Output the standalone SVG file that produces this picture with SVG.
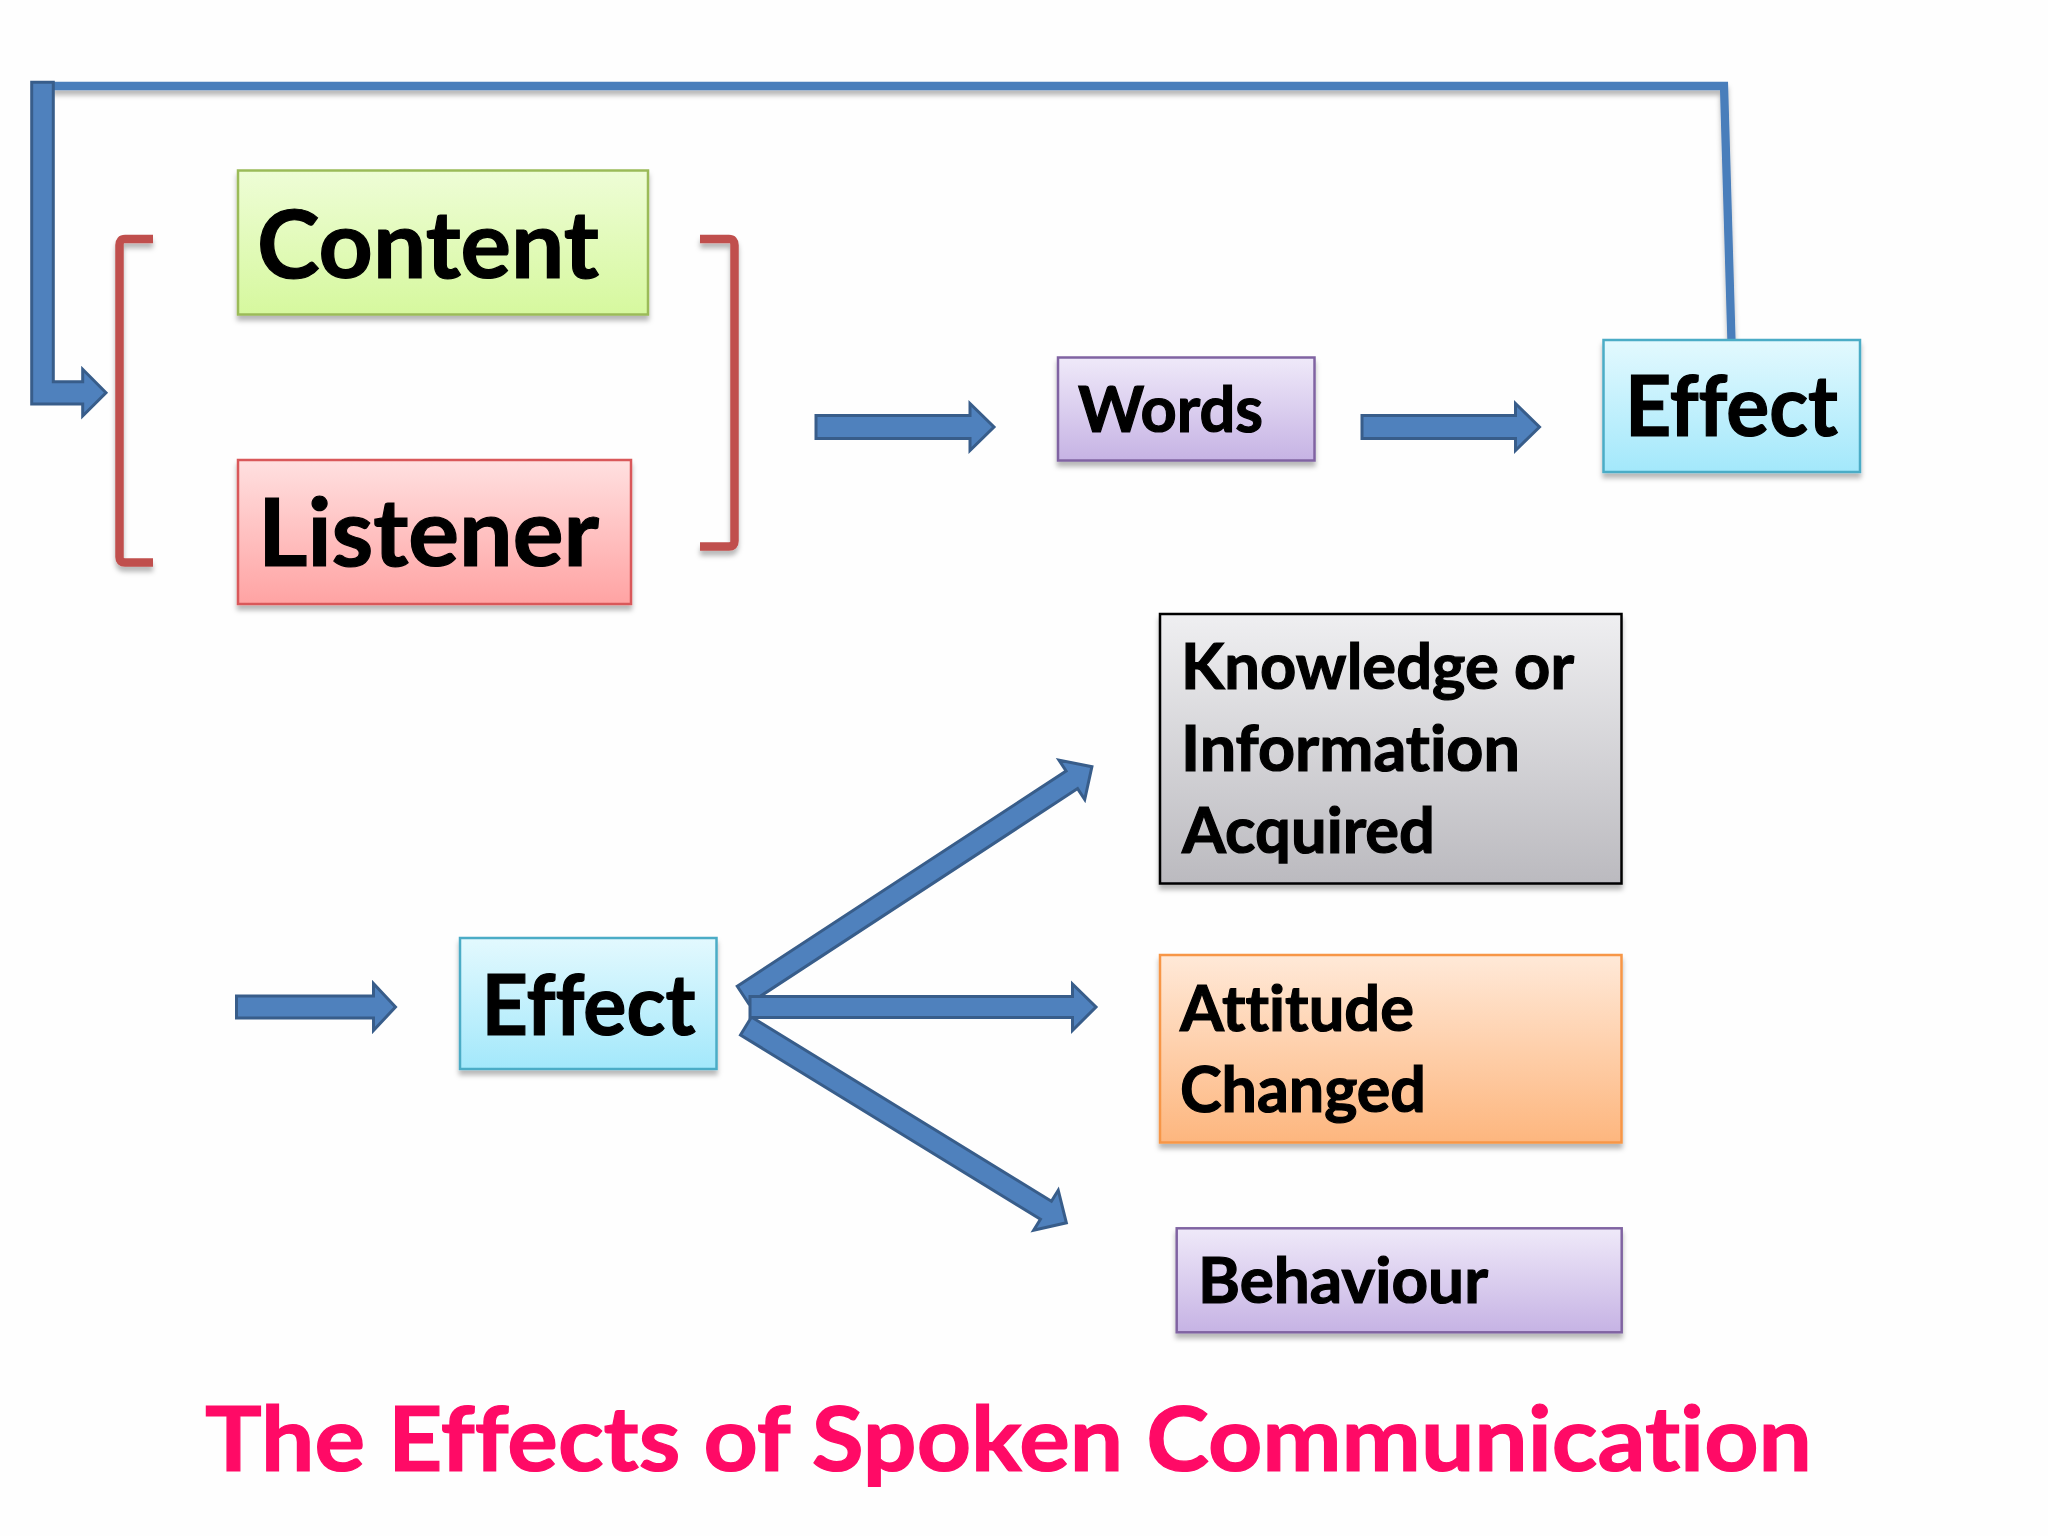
<svg xmlns="http://www.w3.org/2000/svg" width="2048" height="1536" viewBox="0 0 2048 1536">
  <defs>
    <filter id="sh" filterUnits="userSpaceOnUse" x="0" y="0" width="2048" height="1536">
      <feDropShadow dx="0" dy="5" stdDeviation="2.5" flood-color="#000" flood-opacity="0.28"/>
    </filter>
    <linearGradient id="gGreen" x1="0" y1="0" x2="0" y2="1">
      <stop offset="0" stop-color="#eefdd6"/>
      <stop offset="1" stop-color="#d6f89e"/>
    </linearGradient>
    <linearGradient id="gPink" x1="0" y1="0" x2="0" y2="1">
      <stop offset="0" stop-color="#ffe0e0"/>
      <stop offset="1" stop-color="#ffa3a3"/>
    </linearGradient>
    <linearGradient id="gPurple" x1="0" y1="0" x2="0" y2="1">
      <stop offset="0" stop-color="#efe9f9"/>
      <stop offset="1" stop-color="#c6b3e4"/>
    </linearGradient>
    <linearGradient id="gCyan" x1="0" y1="0" x2="0" y2="1">
      <stop offset="0" stop-color="#e3f9fe"/>
      <stop offset="1" stop-color="#a3e8fb"/>
    </linearGradient>
    <linearGradient id="gGray" x1="0" y1="0" x2="0" y2="1">
      <stop offset="0" stop-color="#efeff1"/>
      <stop offset="1" stop-color="#bbbabf"/>
    </linearGradient>
    <linearGradient id="gOrange" x1="0" y1="0" x2="0" y2="1">
      <stop offset="0" stop-color="#ffe9d8"/>
      <stop offset="1" stop-color="#fdb67e"/>
    </linearGradient>
  </defs>
  <style>
    .lbl { font-family: Lato, "Open Sans", "Liberation Sans", sans-serif; font-weight: 700; fill: #000; stroke: #000; stroke-width: 1.2; font-variant-ligatures: none; font-feature-settings: "liga" 0, "clig" 0, "dlig" 0; }
    .box { filter: url(#sh); stroke-width: 2.5; }
    .arr { fill: #4f81bd; stroke: #385d8a; stroke-width: 3; stroke-linejoin: miter; }
    .brk { fill: none; stroke: #c0504d; stroke-width: 8.5; stroke-linejoin: round; filter: url(#sh); }
    .title { font-family: Lato, "Open Sans", "Liberation Sans", sans-serif; font-weight: 700; fill: #ff0a66; stroke: #ff0a66; stroke-width: 1.2; font-variant-ligatures: none; font-feature-settings: "liga" 0, "clig" 0, "dlig" 0; }
  </style>
  <rect x="0" y="0" width="2048" height="1536" fill="#fefefe"/>

  <g id="connectors">
    <polyline points="52,86 1724,86 1731.5,342" fill="none" stroke="#4a7ebb" stroke-width="8.3" stroke-linejoin="miter" filter="url(#sh)"/>
    <polygon class="arr" points="31.7,82.3 53.3,82.3 53.3,381.7 82.7,381.7 82.7,369.3 106,392.7 82.7,416 82.7,404 31.7,404"/>
    <polygon class="arr" points="816,415.5 970,415.5 970,403.5 994,427 970,450.5 970,438.5 816,438.5"/>
    <polygon class="arr" points="1362,415.5 1515.5,415.5 1515.5,403.5 1539.5,427 1515.5,450.5 1515.5,438.5 1362,438.5"/>
    <polygon class="arr" points="236.5,996 373.5,996 373.5,983.5 395.5,1007 373.5,1030.5 373.5,1018 236.5,1018"/>
    <polygon class="arr" transform="translate(743,995) rotate(-33.2)" points="0,-10.5 393,-10.5 393,-23.5 417,0 393,23.5 393,10.5 0,10.5"/>
    <polygon class="arr" transform="translate(746,1026) rotate(31.56)" points="0,-10.5 352,-10.5 352,-23.5 376,0 352,23.5 352,10.5 0,10.5"/>
    <polygon class="arr" points="750,996.5 1072.5,996.5 1072.5,984 1096,1007 1072.5,1030.5 1072.5,1017.5 750,1017.5"/>
  </g>

  <g id="brackets">
    <path class="brk" d="M153,239 H125 Q119.5,239 119.5,245 V557 Q119.5,562.5 125,562.5 H153"/>
    <path class="brk" d="M700,239 H729 Q734.5,239 734.5,245 V541 Q734.5,546.5 729,546.5 H700"/>
  </g>

  <g id="node-content">
    <rect class="box" x="238" y="170.5" width="410" height="144" fill="url(#gGreen)" stroke="#9bbb59"/>
    <text class="lbl" x="257" y="277.7" font-size="93" textLength="342" lengthAdjust="spacingAndGlyphs">Content</text>
  </g>
  <g id="node-listener">
    <rect class="box" x="238" y="460" width="393" height="144" fill="url(#gPink)" stroke="#d9595a"/>
    <text class="lbl" x="258" y="566" font-size="93" textLength="341" lengthAdjust="spacingAndGlyphs">Listener</text>
  </g>
  <g id="node-words">
    <rect class="box" x="1058" y="357.5" width="256.5" height="103" fill="url(#gPurple)" stroke="#8064a2"/>
    <text class="lbl" x="1078" y="432" font-size="64" textLength="185" lengthAdjust="spacingAndGlyphs">Words</text>
  </g>
  <g id="node-effect-top">
    <rect class="box" x="1603.5" y="340" width="256.5" height="132" fill="url(#gCyan)" stroke="#4bacc6"/>
    <text class="lbl" x="1625" y="436" font-size="84" textLength="213" lengthAdjust="spacingAndGlyphs">Effect</text>
  </g>
  <g id="node-effect-bottom">
    <rect class="box" x="460" y="938" width="256.5" height="131" fill="url(#gCyan)" stroke="#4bacc6"/>
    <text class="lbl" x="481.5" y="1034.5" font-size="84" textLength="214" lengthAdjust="spacingAndGlyphs">Effect</text>
  </g>
  <g id="node-knowledge">
    <rect class="box" x="1160" y="614" width="461.5" height="269.5" fill="url(#gGray)" stroke="#000" stroke-width="2.8"/>
    <text class="lbl" x="1181" y="689.3" font-size="64" textLength="393" lengthAdjust="spacingAndGlyphs">Knowledge or</text>
    <text class="lbl" x="1181" y="770.7" font-size="64" textLength="339" lengthAdjust="spacingAndGlyphs">Information</text>
    <text class="lbl" x="1182" y="853.3" font-size="64" textLength="253" lengthAdjust="spacingAndGlyphs">Acquired</text>
  </g>
  <g id="node-attitude">
    <rect class="box" x="1160" y="955" width="461.5" height="187.5" fill="url(#gOrange)" stroke="#f79646"/>
    <text class="lbl" x="1180" y="1030.7" font-size="64" textLength="234" lengthAdjust="spacingAndGlyphs">Attitude</text>
    <text class="lbl" x="1180" y="1111.7" font-size="64" textLength="246" lengthAdjust="spacingAndGlyphs">Changed</text>
  </g>
  <g id="node-behaviour">
    <rect class="box" x="1176.7" y="1228.3" width="445" height="104" fill="url(#gPurple)" stroke="#8064a2"/>
    <text class="lbl" x="1198" y="1303.3" font-size="64" textLength="290" lengthAdjust="spacingAndGlyphs">Behaviour</text>
  </g>

  <text class="title" x="205" y="1470.7" font-size="90" textLength="1607" lengthAdjust="spacingAndGlyphs">The Effects of Spoken Communication</text>
</svg>
